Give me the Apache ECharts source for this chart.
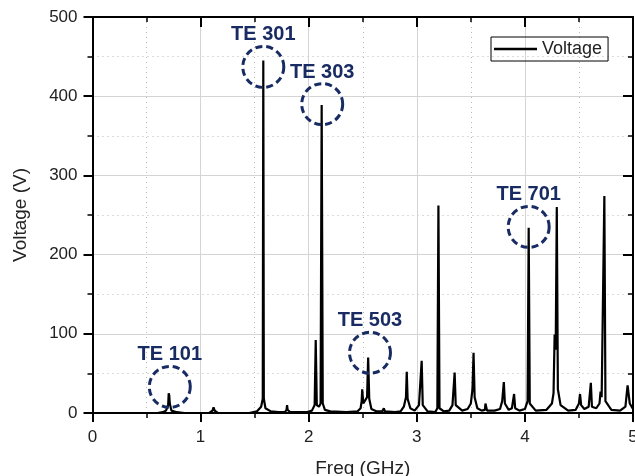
<!DOCTYPE html>
<html>
<head>
<meta charset="utf-8">
<script src="https://cdn.jsdelivr.net/npm/echarts@6/dist/echarts.min.js"></script>
<style>
  html, body { margin: 0; padding: 0; background: #fff; }
  #main { width: 635px; height: 476px; }
</style>
</head>
<body>
<div id="main"></div>
<script>
// spectrum: [freq GHz, voltage V]
var spectrum = [
  [0, 0], [0.6, 0], [0.65, 1], [0.68, 3], [0.70, 10], [0.705, 25], [0.71, 22], [0.715, 12], [0.73, 3], [0.78, 1], [0.85, 0],
  [1.08, 0], [1.11, 3], [1.12, 7], [1.13, 3], [1.16, 0],
  [1.45, 0], [1.52, 2], [1.56, 8], [1.575, 18], [1.58, 445], [1.585, 18], [1.60, 6], [1.65, 2], [1.72, 1],
  [1.78, 1], [1.795, 4], [1.80, 10], [1.805, 4], [1.83, 1],
  [1.98, 1], [2.03, 3], [2.055, 10], [2.065, 92], [2.075, 10], [2.095, 8], [2.11, 12], [2.12, 389], [2.13, 12], [2.15, 4], [2.2, 2], [2.35, 1],
  [2.45, 2], [2.48, 6], [2.49, 15], [2.495, 30], [2.505, 12], [2.52, 10], [2.54, 20], [2.55, 70], [2.56, 18], [2.58, 5], [2.63, 2],
  [2.68, 2], [2.695, 6], [2.705, 2], [2.8, 1],
  [2.85, 2], [2.88, 8], [2.9, 20], [2.907, 52], [2.915, 18], [2.94, 6], [2.98, 3], [3.02, 10], [3.045, 66], [3.055, 10], [3.1, 2],
  [3.17, 1], [3.19, 6], [3.2, 262], [3.21, 6], [3.25, 2],
  [3.3, 3], [3.33, 10], [3.35, 51], [3.36, 10], [3.42, 3], [3.47, 5], [3.5, 12], [3.515, 30], [3.525, 76], [3.535, 20], [3.56, 6],
  [3.6, 3], [3.63, 4], [3.635, 12], [3.645, 12], [3.65, 3], [3.72, 3],
  [3.77, 5], [3.79, 15], [3.805, 39], [3.815, 12], [3.85, 4], [3.88, 6], [3.9, 24], [3.91, 6], [3.95, 3],
  [4.0, 5], [4.025, 15], [4.035, 234], [4.045, 12], [4.1, 3],
  [4.2, 4], [4.25, 12], [4.265, 25], [4.275, 99], [4.285, 80], [4.295, 260], [4.305, 30], [4.33, 10], [4.4, 3],
  [4.47, 4], [4.5, 12], [4.51, 24], [4.52, 10], [4.55, 5], [4.59, 8], [4.61, 38], [4.62, 8], [4.66, 6],
  [4.69, 12], [4.70, 27], [4.71, 20], [4.725, 18], [4.735, 274], [4.745, 15], [4.8, 4],
  [4.88, 3], [4.93, 8], [4.95, 35], [4.97, 12], [5, 5]
];

// circled modes: name, centre freq, centre voltage
var modeNames = ['TE 101', 'TE 301', 'TE 303', 'TE 503', 'TE 701'];
var modeFreq = [0.715, 1.58, 2.125, 2.567, 4.035];
var modeVolt = [33, 437, 390, 76, 235];

var xTicks = [0, 1, 2, 3, 4, 5];
var yTicks = [0, 100, 200, 300, 400, 500];

var navy = '#182b62';
var font = 'Arial, "Liberation Sans", sans-serif';

function axisCommon(pos, show) {
  return {
    type: 'value',
    position: pos,
    axisLine: { show: true, onZero: false, lineStyle: { color: '#000', width: 2 } },
    axisTick: { show: true, inside: !show, length: show ? 9 : 10, lineStyle: { color: '#000', width: 2 } },
    minorTick: { show: true, splitNumber: 2, length: 5, lineStyle: { color: '#000', width: 1.5 } },
    axisLabel: { show: show, color: '#222', fontSize: 17, fontFamily: font },
    splitLine: { show: show, lineStyle: { color: '#d4d4d4', width: 1 } },
    minorSplitLine: { show: show, lineStyle: { color: '#b8b8b8', width: 1, type: [1, 4] } }
  };
}

var xBottom = axisCommon('bottom', true);
xBottom.min = xTicks[0];
xBottom.max = xTicks[xTicks.length - 1];
xBottom.interval = 1;
xBottom.axisLabel.margin = 16;
xBottom.name = 'Freq (GHz)';
xBottom.nameLocation = 'middle';
xBottom.nameGap = 46;
xBottom.nameTextStyle = { color: '#222', fontSize: 19, fontFamily: font };

var xTop = axisCommon('top', false);
xTop.min = xTicks[0];
xTop.max = xTicks[xTicks.length - 1];
xTop.interval = 1;

var yLeft = axisCommon('left', true);
yLeft.min = yTicks[0];
yLeft.max = yTicks[yTicks.length - 1];
yLeft.interval = 100;
yLeft.axisLabel.margin = 15;
yLeft.name = 'Voltage (V)';
yLeft.nameLocation = 'middle';
yLeft.nameGap = 62;
yLeft.nameTextStyle = { color: '#222', fontSize: 19, fontFamily: font };

var yRight = axisCommon('right', false);
yRight.min = yTicks[0];
yRight.max = yTicks[yTicks.length - 1];
yRight.interval = 100;

var modeData = modeNames.map(function(n, i) {
  return { name: n, value: [modeFreq[i], modeVolt[i]] };
});

var chart = echarts.init(document.getElementById('main'));
chart.setOption({
  animation: false,
  grid: { left: 92.5, right: 2, top: 17, bottom: 63, outerBoundsMode: 'none', containLabel: false },
  legend: {
    data: [{ name: 'Voltage', icon: 'rect' }],
    left: 491, top: 37,
    padding: [3, 6, 3, 3],
    itemWidth: 43, itemHeight: 2.5, itemGap: 6,
    borderColor: '#000', borderWidth: 1,
    textStyle: { color: '#222', fontSize: 18, fontFamily: font }
  },
  xAxis: [xBottom, xTop],
  yAxis: [yLeft, yRight],
  series: [
    {
      name: 'Voltage',
      type: 'line',
      xAxisIndex: 0, yAxisIndex: 0,
      symbol: 'none',
      lineStyle: { color: '#000', width: 2.2 },
      itemStyle: { color: '#000' },
      data: spectrum,
      z: 3
    },
    {
      name: 'modes',
      type: 'scatter',
      xAxisIndex: 0, yAxisIndex: 0,
      symbol: 'circle',
      symbolSize: 41,
      itemStyle: { color: 'rgba(0,0,0,0)', opacity: 1, borderColor: navy, borderWidth: 3, borderType: [7, 4] },
      label: {
        show: true, position: 'top', distance: 0,
        formatter: '{b}', color: navy, fontSize: 20, fontWeight: 'bold', fontFamily: font
      },
      emphasis: { disabled: true },
      data: modeData,
      z: 4
    }
  ]
});
</script>
</body>
</html>
